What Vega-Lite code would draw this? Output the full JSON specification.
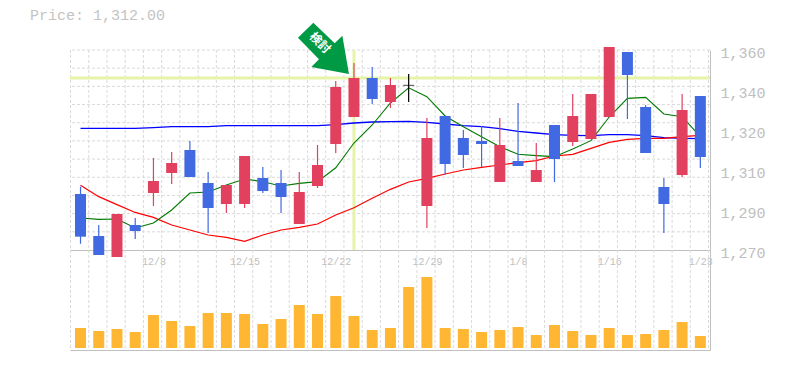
{
"$schema":"https://vega.github.io/schema/vega-lite/v6.json",
"autosize":{"type":"pad"},
"padding":{"left":30,"top":7,"right":10,"bottom":10},
"background":"white",
"bounds":"flush",
"spacing":0,
"config":{"view":{"stroke":null},"font":"Liberation Mono","axis":{"labelOverlap":false,"labelBound":false,"labelFlush":false}},
"datasets":{
"candles":[
{"date":"12/4","i":0,"high":1298.5,"low":1272.8,"open":1295.2,"close":1276.0,"dir":"down","ma_short":1284.4,"ma_mid":1299.1,"ma_long":1324.75,"volume":20000},
{"date":"12/5","i":1,"high":1281.25,"low":1267.75,"open":1276.3,"close":1267.75,"dir":"down","ma_short":1283.8,"ma_mid":1294,"ma_long":1324.75,"volume":17000},
{"date":"12/6","i":2,"high":1286.2,"low":1266.85,"open":1266.85,"close":1286.2,"dir":"up","ma_short":1283.95,"ma_mid":1290.4,"ma_long":1324.75,"volume":19000},
{"date":"12/7","i":3,"high":1284.4,"low":1275,"open":1281.25,"close":1278.55,"dir":"down","ma_short":1279.9,"ma_mid":1286.9,"ma_long":1324.75,"volume":16000},
{"date":"12/8","i":4,"high":1311.4,"low":1289.8,"open":1295.65,"close":1301.05,"dir":"up","ma_short":1282.15,"ma_mid":1284.7,"ma_long":1325.05,"volume":33000},
{"date":"12/11","i":5,"high":1314.1,"low":1299.7,"open":1304.65,"close":1309.15,"dir":"up","ma_short":1288,"ma_mid":1281.25,"ma_long":1325.5,"volume":27000},
{"date":"12/12","i":6,"high":1319.05,"low":1302.85,"open":1315,"close":1302.85,"dir":"down","ma_short":1295.65,"ma_mid":1279,"ma_long":1325.5,"volume":22000},
{"date":"12/13","i":7,"high":1305.1,"low":1277.65,"open":1300.15,"close":1288.9,"dir":"down","ma_short":1296.1,"ma_mid":1276.75,"ma_long":1325.5,"volume":35000},
{"date":"12/14","i":8,"high":1299.25,"low":1286.65,"open":1290.7,"close":1299.25,"dir":"up","ma_short":1299.25,"ma_mid":1275.7,"ma_long":1325.95,"volume":35000},
{"date":"12/15","i":9,"high":1312.3,"low":1288.9,"open":1290.7,"close":1312.3,"dir":"up","ma_short":1301.95,"ma_mid":1273.9,"ma_long":1325.95,"volume":34000},
{"date":"12/18","i":10,"high":1307.35,"low":1295.65,"open":1302.4,"close":1296.55,"dir":"down","ma_short":1300.75,"ma_mid":1276.75,"ma_long":1325.95,"volume":24000},
{"date":"12/19","i":11,"high":1306,"low":1286.65,"open":1300.15,"close":1293.85,"dir":"down","ma_short":1298.8,"ma_mid":1279,"ma_long":1325.95,"volume":29000},
{"date":"12/20","i":12,"high":1305.1,"low":1281.7,"open":1281.7,"close":1296.1,"dir":"up","ma_short":1300,"ma_mid":1280.2,"ma_long":1325.95,"volume":43000},
{"date":"12/21","i":13,"high":1317.25,"low":1297.9,"open":1298.8,"close":1308.25,"dir":"up","ma_short":1300.75,"ma_mid":1281.7,"ma_long":1325.95,"volume":34000},
{"date":"12/22","i":14,"high":1346.05,"low":1313.65,"open":1317.7,"close":1343.35,"dir":"up","ma_short":1307,"ma_mid":1285.75,"ma_long":1326.4,"volume":52000},
{"date":"12/25","i":15,"high":1354.15,"low":1329.85,"open":1329.85,"close":1347.4,"dir":"up","ma_short":1318.15,"ma_mid":1289,"ma_long":1327.15,"volume":32000},
{"date":"12/26","i":16,"high":1352.35,"low":1335.7,"open":1347.4,"close":1337.95,"dir":"down","ma_short":1326.25,"ma_mid":1293.25,"ma_long":1327.6,"volume":18000},
{"date":"12/27","i":17,"high":1347.4,"low":1333.9,"open":1336.6,"close":1344.25,"dir":"up","ma_short":1336.15,"ma_mid":1297.3,"ma_long":1327.75,"volume":20000},
{"date":"12/28","i":18,"high":1349.2,"low":1336.6,"open":1344.1,"close":1344.1,"dir":"flat","ma_short":1343,"ma_mid":1300.6,"ma_long":1327.9,"volume":61000},
{"date":"12/29","i":19,"high":1329.4,"low":1279.9,"open":1289.8,"close":1320.4,"dir":"up","ma_short":1339,"ma_mid":1302.25,"ma_long":1327.45,"volume":71000},
{"date":"1/2","i":20,"high":1330.3,"low":1303.9,"open":1330.3,"close":1308.7,"dir":"down","ma_short":1330.3,"ma_mid":1304.2,"ma_long":1326.7,"volume":20000},
{"date":"1/3","i":21,"high":1324,"low":1306.9,"open":1320.4,"close":1312.75,"dir":"down","ma_short":1325.5,"ma_mid":1306,"ma_long":1325.95,"volume":19000},
{"date":"1/4","i":22,"high":1325.8,"low":1307.35,"open":1319.05,"close":1317.7,"dir":"down","ma_short":1321,"ma_mid":1307.2,"ma_long":1325.5,"volume":16000},
{"date":"1/5","i":23,"high":1329.4,"low":1300.6,"open":1300.6,"close":1317.25,"dir":"up","ma_short":1316.5,"ma_mid":1308.25,"ma_long":1324.6,"volume":18000},
{"date":"1/8","i":24,"high":1336.15,"low":1307.8,"open":1310.05,"close":1307.8,"dir":"down","ma_short":1313.05,"ma_mid":1309.3,"ma_long":1323.4,"volume":21000},
{"date":"1/9","i":25,"high":1318.15,"low":1300.6,"open":1300.6,"close":1306,"dir":"up","ma_short":1312.45,"ma_mid":1310.2,"ma_long":1322.65,"volume":13000},
{"date":"1/10","i":26,"high":1326.25,"low":1300.6,"open":1326.25,"close":1310.95,"dir":"down","ma_short":1312,"ma_mid":1312.3,"ma_long":1321.9,"volume":23000},
{"date":"1/11","i":27,"high":1340.2,"low":1316.8,"open":1318.6,"close":1330.3,"dir":"up","ma_short":1315.45,"ma_mid":1313.05,"ma_long":1321.6,"volume":17000},
{"date":"1/12","i":28,"high":1340.2,"low":1319.95,"open":1319.95,"close":1340.2,"dir":"up","ma_short":1319.2,"ma_mid":1315.75,"ma_long":1321.45,"volume":13000},
{"date":"1/16","i":29,"high":1361.35,"low":1329.85,"open":1329.85,"close":1361.35,"dir":"up","ma_short":1329.85,"ma_mid":1318.45,"ma_long":1321.9,"volume":20000},
{"date":"1/17","i":30,"high":1359.1,"low":1328.95,"open":1359.1,"close":1348.75,"dir":"down","ma_short":1338.25,"ma_mid":1319.8,"ma_long":1321.9,"volume":13000},
{"date":"1/18","i":31,"high":1335.25,"low":1313.65,"open":1334.35,"close":1313.65,"dir":"down","ma_short":1338.7,"ma_mid":1320.25,"ma_long":1321.45,"volume":14000},
{"date":"1/19","i":32,"high":1302.4,"low":1277.65,"open":1298.35,"close":1290.7,"dir":"down","ma_short":1331.2,"ma_mid":1320.25,"ma_long":1320.55,"volume":18000},
{"date":"1/22","i":33,"high":1340.2,"low":1302.85,"open":1303.75,"close":1333,"dir":"up","ma_short":1330,"ma_mid":1321,"ma_long":1320.25,"volume":26000},
{"date":"1/23","i":34,"high":1339.3,"low":1306.9,"open":1339.3,"close":1311.85,"dir":"down","ma_short":1321,"ma_mid":1321.6,"ma_long":1320.1,"volume":12000}
],
"xgrid":[{"g":-0.55},{"g":0.45},{"g":1.45},{"g":2.45},{"g":3.45},{"g":4.45},{"g":5.45},{"g":6.45},{"g":7.45},{"g":8.45},{"g":9.45},{"g":10.45},{"g":11.45},{"g":12.45},{"g":13.45},{"g":14.45},{"g":15.45},{"g":16.45},{"g":17.45},{"g":18.45},{"g":19.45},{"g":20.45},{"g":21.45},{"g":22.45},{"g":23.45},{"g":24.45},{"g":25.45},{"g":26.45},{"g":27.45},{"g":28.45},{"g":29.45},{"g":30.45},{"g":31.45},{"g":32.45},{"g":33.45},{"g":34.45}],
"ygrid":[{"p":1360},{"p":1351.82},{"p":1343.64},{"p":1335.45},{"p":1327.27},{"p":1319.09},{"p":1310.91},{"p":1302.73},{"p":1294.55},{"p":1286.36},{"p":1278.18}]
},
"vconcat":[
{
"width":640,"height":200,
"title":{"text":"Price: 1,312.00","anchor":"start","frame":"group","dx":-40,"offset":0,"font":"Liberation Mono","fontSize":15,"fontWeight":"normal","color":"#c4c4c4"},
"encoding":{
"x":{"field":"i","type":"quantitative","scale":{"domain":[-0.577,34.53],"nice":false,"zero":false,"padding":0},
"axis":{"title":null,"values":[4,9,14,19,24,29,34],"labelExpr":"{'4':'12/8','9':'12/15','14':'12/22','19':'12/29','24':'1/8','29':'1/16','34':'1/23'}[datum.value]","grid":false,"ticks":false,"domainColor":"#c0c0c0","labelColor":"#c0c0c0","labelFont":"Liberation Mono","labelFontSize":10,"labelPadding":6,"labelFlush":false,"labelBound":false,"labelOverlap":false}}
},
"layer":[
{"data":{"name":"xgrid"},"mark":{"type":"rule","color":"#dadada","strokeDash":[3,2],"strokeWidth":1},"encoding":{"x":{"field":"g","type":"quantitative"}}},
{"data":{"name":"ygrid"},"mark":{"type":"rule","color":"#dadada","strokeDash":[3,2],"strokeWidth":1},"encoding":{"x":null,"y":{"field":"p","type":"quantitative","scale":{"domain":[1270,1360],"nice":false,"zero":false,"padding":0},
"axis":{"title":null,"orient":"right","values":[1360,1342,1324,1306,1288,1270],"tickCount":6,"labelExpr":"format(round(datum.value/10)*10,',')","grid":false,"ticks":false,"domainColor":"#c0c0c0","labelColor":"#c0c0c0","labelFont":"Liberation Mono","labelFontSize":15,"labelPadding":10,"labelOffset":2,"labelOverlap":false,"labelBound":false,"labelFlush":false}}}},
{"data":{"values":[{"price":1347.4}]},"mark":{"type":"rule","color":"#e6f4a8","strokeWidth":3},"encoding":{"x":null,"y":{"field":"price","type":"quantitative"}}},
{"data":{"values":[{"i":15}]},"mark":{"type":"rule","color":"#e6f4a8","strokeWidth":3},"encoding":{"x":{"field":"i","type":"quantitative"}}},
{"data":{"name":"candles"},"layer":[
{"mark":{"type":"line","color":"#0000ff","strokeWidth":1.3},"encoding":{"y":{"field":"ma_long","type":"quantitative"}}},
{"mark":{"type":"line","color":"#ff0000","strokeWidth":1.2},"encoding":{"y":{"field":"ma_mid","type":"quantitative"}}},
{"mark":{"type":"line","color":"#007a00","strokeWidth":1.1},"encoding":{"y":{"field":"ma_short","type":"quantitative"}}},
{"mark":{"type":"rule","strokeWidth":1.2},"encoding":{"y":{"field":"low","type":"quantitative"},"y2":{"field":"high"},"color":{"field":"dir","type":"nominal","scale":{"domain":["up","down","flat"],"range":["#e2405f","#4169e1","#000000"]},"legend":null}}},
{"transform":[{"filter":"datum.dir!=='flat'"}],"mark":{"type":"bar","size":11},"encoding":{"y":{"field":"open","type":"quantitative"},"y2":{"field":"close"},"color":{"field":"dir","type":"nominal","legend":null}}},
{"transform":[{"filter":"datum.dir==='flat'"}],"mark":{"type":"tick","orient":"horizontal","size":11,"thickness":1,"color":"#000000"},"encoding":{"y":{"field":"open","type":"quantitative"}}}
]},
{"data":{"values":[{"i":15,"price":1349}]},"mark":{"type":"point","shape":"M-40.6,-51.7L-56,-36.7L-35,-15.1L-42.6,-7.4L-5,-0.4L-11.6,-38.7L-19.3,-31.1Z","size":4,"filled":true,"opacity":1,"color":"#009944"},"encoding":{"x":{"field":"i","type":"quantitative"},"y":{"field":"price","type":"quantitative"}}},
{"data":{"values":[{"i":13.14,"price":1363.2,"note":"検討"}]},"mark":{"type":"text","angle":45,"font":"Noto Sans CJK JP","fontSize":12,"fontWeight":"bold","color":"white","align":"center","baseline":"middle"},"encoding":{"x":{"field":"i","type":"quantitative"},"y":{"field":"price","type":"quantitative"},"text":{"field":"note"}}}
]
},
{
"width":640,"height":100,
"encoding":{
"x":{"field":"i","type":"quantitative","scale":{"domain":[-0.577,34.53],"nice":false,"zero":false,"padding":0},
"axis":{"title":null,"labels":false,"grid":false,"ticks":false,"domainColor":"#c0c0c0"}}
},
"layer":[
{"data":{"name":"xgrid"},"mark":{"type":"rule","color":"#dadada","strokeDash":[3,2],"strokeWidth":1},"encoding":{"x":{"field":"g","type":"quantitative"}}},
{"data":{"name":"candles"},"mark":{"type":"bar","size":11,"color":"#ffb733"},"encoding":{"y":{"field":"volume","type":"quantitative","scale":{"domain":[-2000,98000],"nice":false,"zero":false,"padding":0},"axis":{"title":null,"orient":"right","labels":false,"grid":false,"ticks":false,"domainColor":"#c0c0c0"}}}}
]
}
]
}
